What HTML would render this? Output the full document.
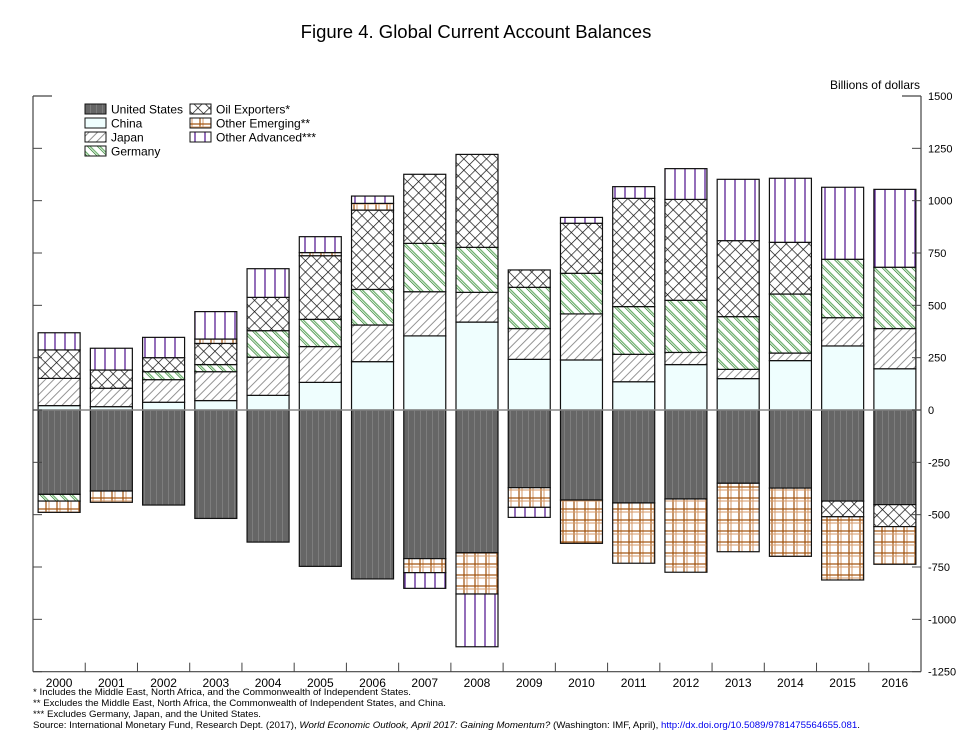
<!DOCTYPE html>
<html><head><meta charset="utf-8"><style>
body{margin:0;background:#fff;}
svg{display:block;font-family:"Liberation Sans",Arial,sans-serif;}
</style></head><body>
<svg id="chart" width="969" height="733" viewBox="0 0 969 733">
<defs>
<pattern id="pUS" width="6" height="6" patternUnits="userSpaceOnUse"><rect width="6" height="6" fill="#666"/><line x1="0.5" y1="0" x2="0.5" y2="6" stroke="#7d7d7d" stroke-width="1"/></pattern>
<pattern id="pCN" width="6" height="6" patternUnits="userSpaceOnUse"><rect width="6" height="6" fill="#effefe"/></pattern>
<pattern id="pJP" width="6" height="6" patternUnits="userSpaceOnUse" patternTransform="rotate(45)"><rect width="6" height="6" fill="#fff"/><line x1="0" y1="0" x2="0" y2="6" stroke="#888" stroke-width="1.8"/></pattern>
<pattern id="pDE" width="7" height="7" patternUnits="userSpaceOnUse" patternTransform="rotate(-45)"><rect width="7" height="7" fill="#fff"/><line x1="0" y1="0" x2="0" y2="7" stroke="#1f7a1f" stroke-width="1.4"/><line x1="2.2" y1="0" x2="2.2" y2="7" stroke="#4a9e4a" stroke-width="1"/></pattern>
<pattern id="pOil" width="8" height="8" patternUnits="userSpaceOnUse" patternTransform="rotate(45)"><rect width="8" height="8" fill="#fff"/><line x1="0" y1="0" x2="0" y2="8" stroke="#111" stroke-width="1.4"/><line x1="0" y1="0" x2="8" y2="0" stroke="#111" stroke-width="1.4"/></pattern>
<pattern id="pOE" width="11" height="11" patternUnits="userSpaceOnUse"><rect width="11" height="11" fill="#fff"/><line x1="2" y1="0" x2="2" y2="11" stroke="#a0500a" stroke-width="1.2"/><line x1="5" y1="0" x2="5" y2="11" stroke="#d49a68" stroke-width="1"/><line x1="0" y1="3" x2="11" y2="3" stroke="#a0500a" stroke-width="1.2"/><line x1="0" y1="6" x2="11" y2="6" stroke="#d49a68" stroke-width="1"/></pattern>
<pattern id="pOA" width="10" height="10" patternUnits="userSpaceOnUse"><rect width="10" height="10" fill="#fff"/><line x1="5" y1="0" x2="5" y2="10" stroke="#5a1f96" stroke-width="1.3"/></pattern>
</defs>
<text x="476" y="38" text-anchor="middle" font-size="18.5">Figure 4.  Global Current Account Balances</text>
<text x="920" y="89" text-anchor="end" font-size="12">Billions of dollars</text>
<g id="bars"></g>
<g id="axes"></g>
<g id="legend"></g>
<g font-size="9.5">
<text x="33" y="695" textLength="378" lengthAdjust="spacingAndGlyphs">*   Includes the Middle East, North Africa, and the Commonwealth of Independent States.</text>
<text x="33" y="706" textLength="413" lengthAdjust="spacingAndGlyphs">**  Excludes the Middle East, North Africa, the Commonwealth of Independent States, and China.</text>
<text x="33" y="717" textLength="228" lengthAdjust="spacingAndGlyphs">*** Excludes Germany, Japan, and the United States.</text>
<text x="33" y="728" textLength="827" lengthAdjust="spacingAndGlyphs">Source:  International Monetary Fund, Research Dept. (2017), <tspan font-style="italic">World Economic Outlook, April 2017:  Gaining Momentum?</tspan> (Washington:  IMF, April), <tspan fill="#0000ee">http://dx.doi.org/10.5089/9781475564655.081</tspan>.</text>
</g>
</svg>
<script>
const years = ["2000","2001","2002","2003","2004","2005","2006","2007","2008","2009","2010","2011","2012","2013","2014","2015","2016"];
const seriesNames = ["United States","China","Japan","Germany","Oil Exporters*","Other Emerging**","Other Advanced***"];
const usVals = [-403,-387,-454,-518,-631,-747,-807,-710,-682,-371,-430,-444,-425,-350,-373,-435,-452];
const chinaVals = [21,16,37,45,70,132,231,354,420,242,239,135,217,150,236,306,197];
const japanVals = [130,88,108,138,182,171,175,211,142,147,220,131,58,44,36,135,192];
const germanyVals = [-32,0,38,34,127,130,170,231,215,197,194,228,249,252,282,279,293];
const oilVals = [136,87,67,101,159,304,379,330,444,83,239,517,482,363,247,-75,-105];
const otherEmVals = [-54,-54,0,21,0,15,32,-67,-197,-94,-207,-288,-350,-327,-326,-302,-180];
const otherAdvVals = [82,104,97,131,137,76,35,-75,-252,-48,28,56,147,293,306,344,372];
const yTicks = [1500,1250,1000,750,500,250,0,-250,-500,-750,-1000,-1250];
const series = [usVals,chinaVals,japanVals,germanyVals,oilVals,otherEmVals,otherAdvVals];
const fills = ["url(#pUS)","url(#pCN)","url(#pJP)","url(#pDE)","url(#pOil)","url(#pOE)","url(#pOA)"];
const keys = ["us","china","japan","germany","oil-exporters","other-emerging","other-advanced"];
const NS="http://www.w3.org/2000/svg";
const X0=33,X1=921,Y0=410,PX=(410-96)/1500;
const band=(X1-X0)/years.length, bw=42;
const yS=v=>Y0-v*PX;
const xC=i=>X0+band*(i+0.5);
function mk(tag,attrs,parent){const e=document.createElementNS(NS,tag);for(const k in attrs)e.setAttribute(k,attrs[k]);parent.appendChild(e);return e;}
const bars=document.getElementById('bars');
years.forEach((yr,i)=>{
  let pos=0,neg=0;
  series.forEach((s,k)=>{
    const v=s[i]; if(!v) return;
    let a,b;
    if(v>0){a=pos;b=pos+v;pos=b;}else{a=neg;b=neg+v;neg=b;}
    const r=mk('rect',{x:xC(i)-bw/2,y:Math.min(yS(a),yS(b)),width:bw,height:Math.abs(yS(a)-yS(b)),fill:fills[k],stroke:'#111','stroke-width':1.2},bars);
    
    
  });
});
const ax=document.getElementById('axes');
mk('line',{x1:X0,y1:Y0,x2:X1,y2:Y0,stroke:'#888','stroke-width':1.5},ax);
mk('line',{x1:X0,y1:yS(1500),x2:X0,y2:yS(-1250),stroke:'#444','stroke-width':1.2},ax);
mk('line',{x1:X1,y1:yS(1500),x2:X1,y2:yS(-1250),stroke:'#444','stroke-width':1.2},ax);
mk('line',{x1:X0,y1:yS(-1250),x2:X1,y2:yS(-1250),stroke:'#444','stroke-width':1.2},ax);
mk('line',{x1:X0,y1:yS(1500),x2:X0+19,y2:yS(1500),stroke:'#444','stroke-width':1.2},ax);
mk('line',{x1:X1-19,y1:yS(1500),x2:X1,y2:yS(1500),stroke:'#444','stroke-width':1.2},ax);
yTicks.forEach(t=>{
  const y=yS(t);
  mk('line',{x1:X0,y1:y,x2:X0+9,y2:y,stroke:'#444'},ax);
  mk('line',{x1:X1-9,y1:y,x2:X1,y2:y,stroke:'#444'},ax);
  const tx=mk('text',{x:X1+7,y:y+4,'font-size':11},ax);
  tx.textContent=t<0?'-'+Math.abs(t):String(t);
  
  
});
years.forEach((yr,i)=>{
  if(i>0) mk('line',{x1:X0+band*i,y1:yS(-1250)-9,x2:X0+band*i,y2:yS(-1250),stroke:'#444'},ax);
  const tx=mk('text',{x:xC(i),y:687,'font-size':12,'text-anchor':'middle'},ax);
  tx.textContent=yr;
  
  
});
const lg=document.getElementById('legend');
const pos=[[85,104],[85,118],[85,132],[85,146],[190,104],[190,118],[190,132]];
seriesNames.forEach((n,k)=>{
  const [x,y]=pos[k];
  const r=mk('rect',{x:x,y:y,width:21,height:10,fill:fills[k],stroke:'#111','stroke-width':1},lg);
  
  
  const t=mk('text',{x:x+26,y:y+9.5,'font-size':12},lg);
  t.textContent=n;
  
  
});
</script>
</body></html>
